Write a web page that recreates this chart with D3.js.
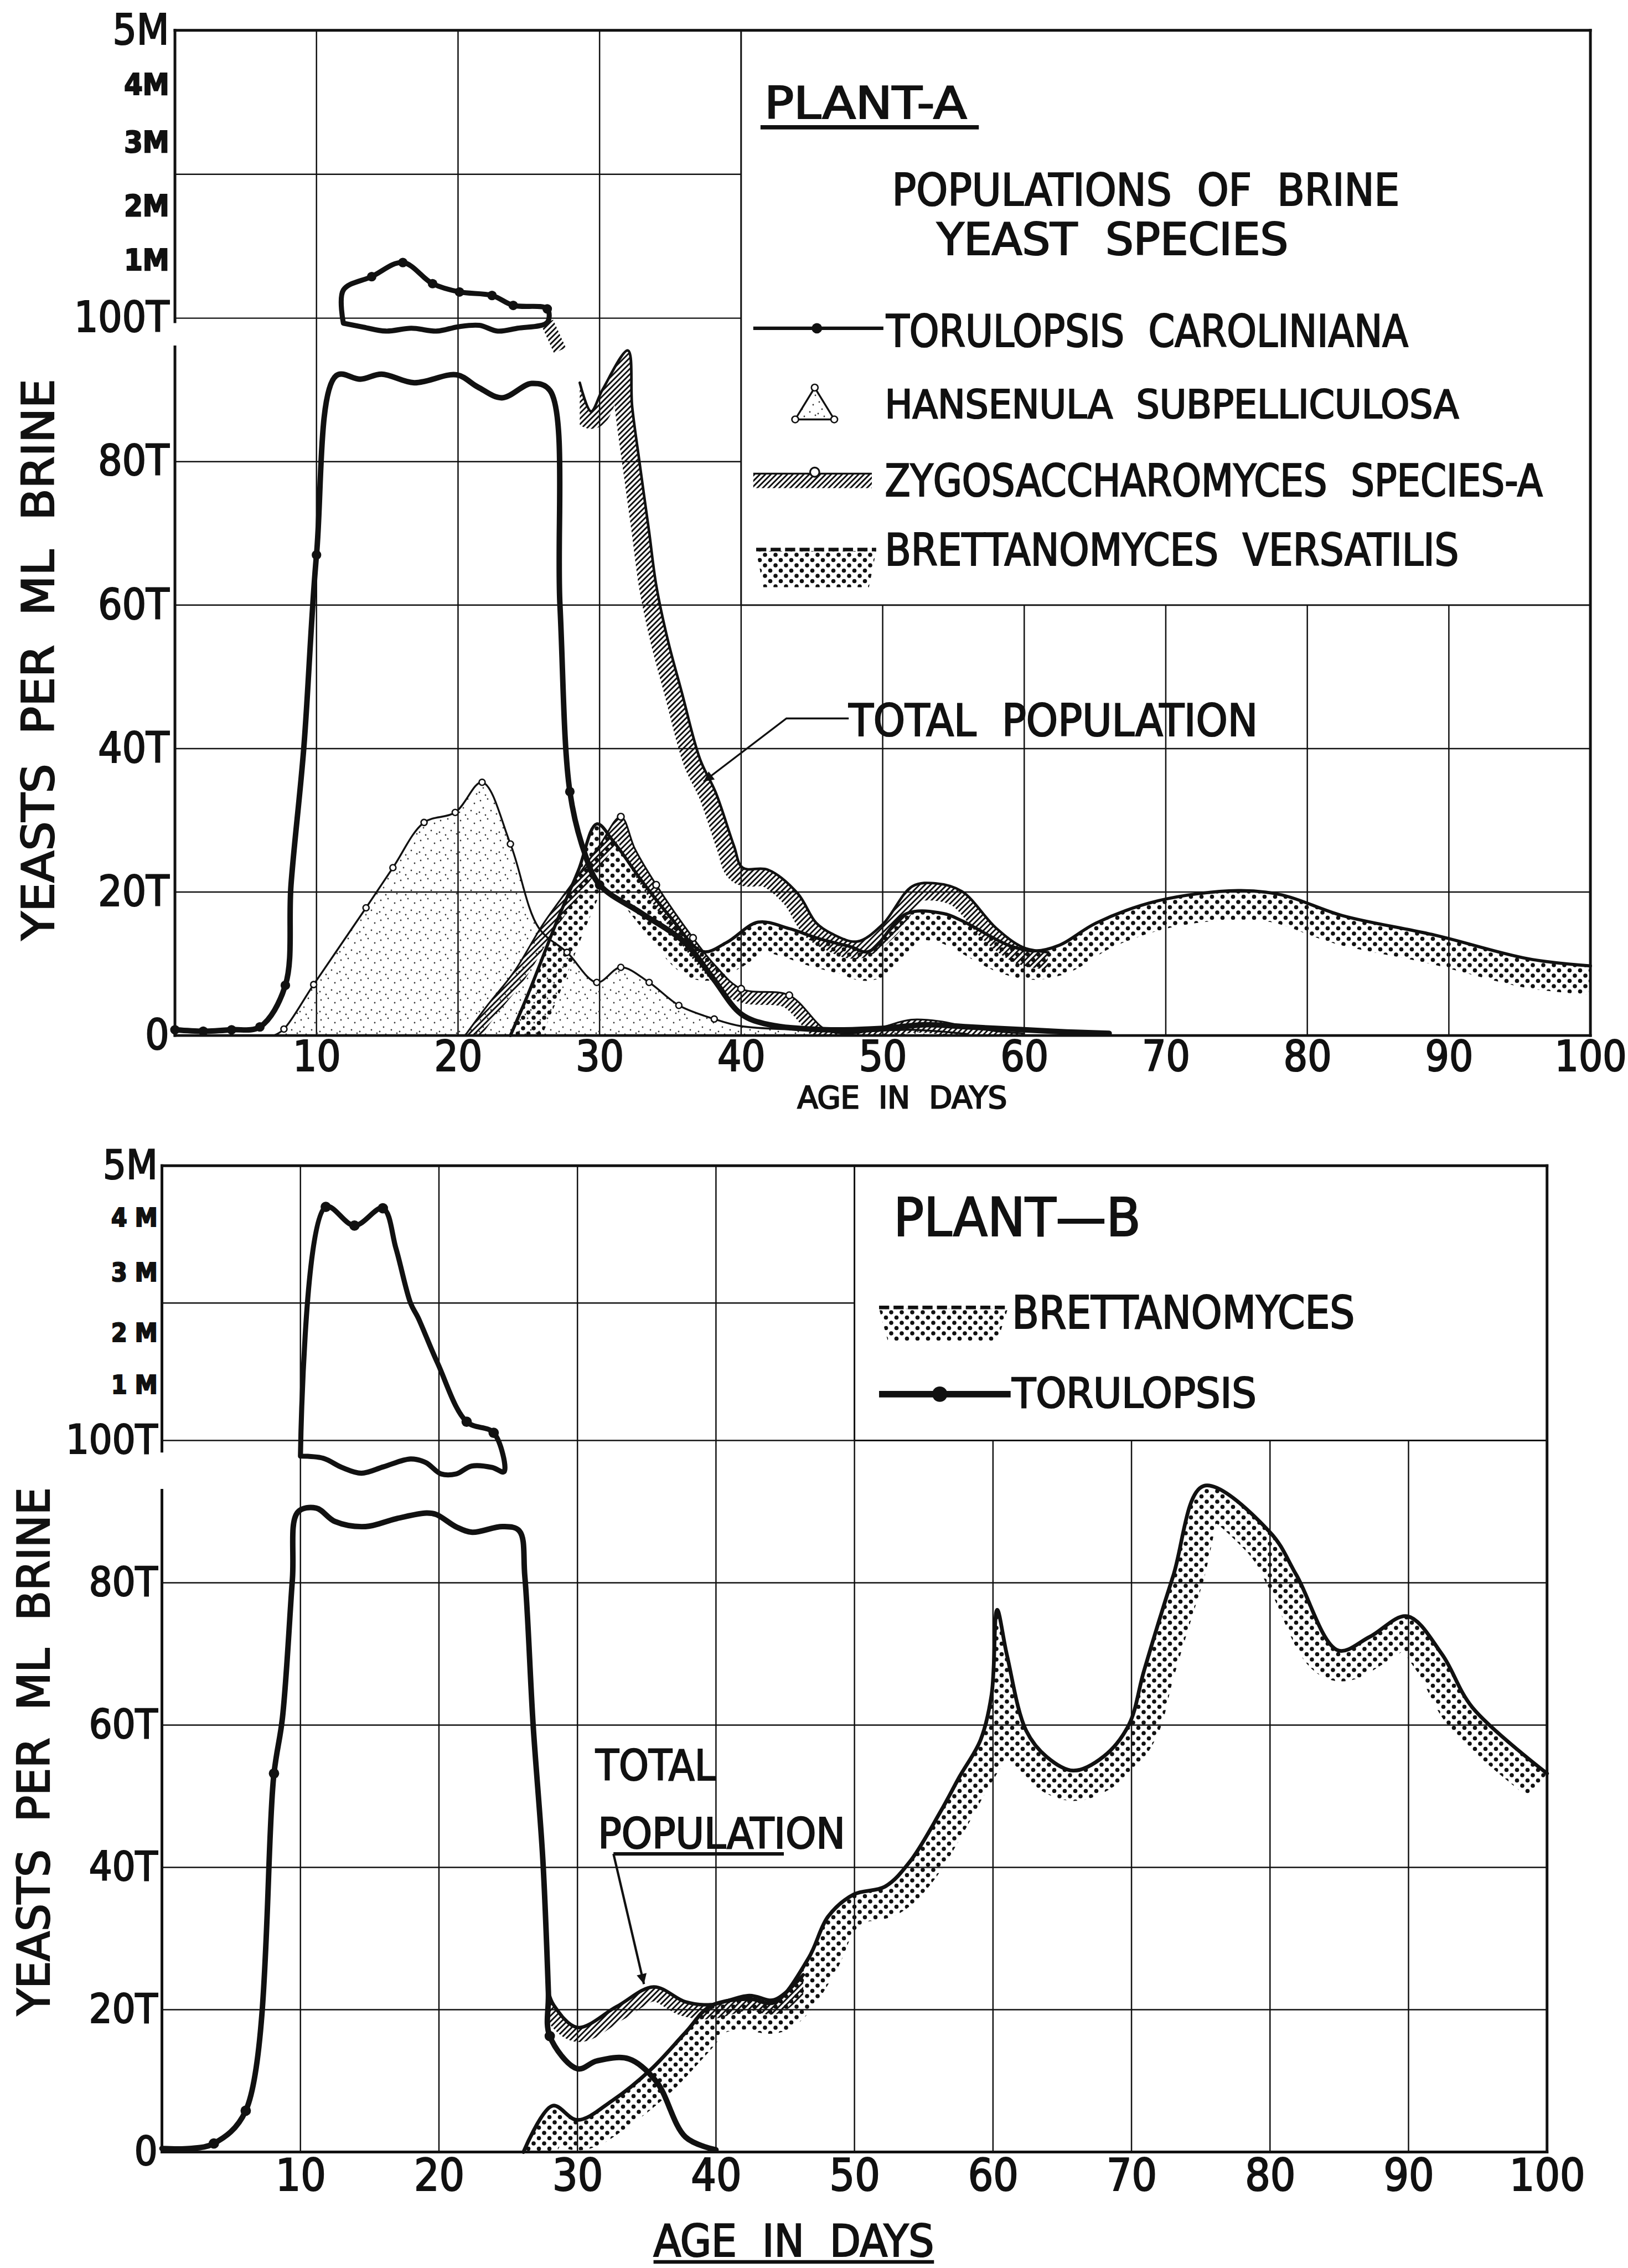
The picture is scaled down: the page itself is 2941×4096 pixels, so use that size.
<!DOCTYPE html>
<html>
<head>
<meta charset="utf-8">
<script src="https://cdn.jsdelivr.net/npm/d3@7/dist/d3.min.js"></script>
<style>
  html, body { margin:0; padding:0; background:#ffffff; }
  svg { display:block; }
  text { font-family: "Liberation Sans Narrow", "DejaVu Sans Condensed", "Liberation Sans", Arial, sans-serif; fill:#111; stroke:#111; stroke-width:2.2px; white-space: pre; }
</style>
</head>
<body>
<svg id="chart" width="2941" height="4096" xmlns="http://www.w3.org/2000/svg"></svg>
<script>
// ================= DATA  (x = age in days, y = yeasts per ml brine, in thousands) =================
const dayTicks   = [10,20,30,40,50,60,70,80,90,100];
const gridDays   = [10,20,30,40,50,60,70,80,90];
const gridValues = [20,40,60,80,100,2500];
const yTickValues  = [0,20,40,60,80,100,1000,2000,3000,4000,5000];
const yTickLabelsA = ["0","20T","40T","60T","80T","100T","1M","2M","3M","4M","5M"];
const yTickLabelsB = ["0","20T","40T","60T","80T","100T","1 M","2 M","3 M","4 M","5M"];
const legendA = ["TORULOPSIS  CAROLINIANA","HANSENULA  SUBPELLICULOSA","ZYGOSACCHAROMYCES  SPECIES-A","BRETTANOMYCES  VERSATILIS"];
const legendB = ["BRETTANOMYCES","TORULOPSIS"];

// ---- Plant A ----
const torulopsisA = [[0,0.8],[2,0.6],[4,0.8],[6,1.2],[7.8,7],[8.2,21],[9.1,40],[10,67],[11.4,92],[13.1,91.5],[14.6,92.2],[16.9,91],[19.9,92.1],[21.4,90.4],[23.1,88.9],[25.2,90.9],[26.5,89.9],[27.2,60],[27.9,34],[28.9,25.7],[30,21],[33,17],[36,13],[38,8],[40,3],[42,1.5],[46,0.8],[50,1],[53,1.5],[56,1.2],[60,0.8],[63,0.5],[66,0.3]];
const torulopsisAUpper = [[11.9,99.3],[11.9,540],[13.9,750],[16.1,970],[18.2,640],[20.1,510],[22.4,455],[23.9,300],[26.3,245],[26.3,99.4],[24.2,98.6],[22.8,98.2],[21.5,99],[20,98.8],[18.5,98.2],[16.7,98.6],[14.9,98.2],[13.2,98.8],[11.9,99.3]];
const torulopsisAMarks = [[0,0.8],[2,0.6],[4,0.8],[6,1.2],[7.8,7],[10,67],[27.9,34],[30,21],[13.9,750],[16.1,970],[18.2,640],[20.1,510],[22.4,455],[23.9,300],[26.3,245]];
const hansenulaA = [[7,0],[7.7,0.9],[9.8,7.1],[13.5,17.8],[15.4,23.4],[17.6,29.7],[19.8,31.1],[21.7,35.3],[23.7,26.7],[25.7,15],[27.7,11.6],[29.8,7.4],[31.5,9.5],[33.5,7.4],[35.6,4.2],[38.1,2.3],[40,1.3],[44,0.8],[48,0.5],[52,0.8],[56,0.2]];
const hansenulaAMarks = [[7.7,0.9],[9.8,7.1],[13.5,17.8],[15.4,23.4],[17.6,29.7],[19.8,31.1],[21.7,35.3],[23.7,26.7],[27.7,11.6],[29.8,7.4],[31.5,9.5],[33.5,7.4],[35.6,4.2],[38.1,2.3]];
const zygoA = [[20.5,0],[22,4],[24,9],[26,15.5],[28,21],[30,26.5],[31.5,30.5],[32.5,26],[34,21],[36.6,13.6],[38.1,9.9],[40,6.5],[43.4,5.6],[46,0.8],[48,0.3],[50,1.2],[52,2.2],[54,2],[56,1.2],[58,0.6],[60,0.3]];
const zygoAMarks = [[31.5,30.5],[34,21],[36.6,13.6],[40,6.5],[43.4,5.6]];
const brettA = [[23.7,0],[25,6],[27,16],[28.5,23],[29.8,29.5],[31,27],[33,21.5],[35,16.5],[37.3,11.7],[39,13],[41.2,15.8],[43.4,14.9],[45.5,13.5],[47.7,12.4],[49,11.7],[51.7,17],[54.3,17],[55.6,16],[59,12.5],[60.8,11.8],[62.5,12.6],[65.1,15.7],[69.5,18.8],[75.1,20.2],[78.2,19.6],[82.5,16.7],[89,14],[95.6,10.7],[100,9.7]];
const totalAStub = [[26.3,99.4],[27.2,95.5]];
const totalA = [[28.6,91],[29.4,87],[30.2,90],[32,95.5],[32.3,87.7],[32.8,80.2],[33.5,70.2],[34,62.8],[34.8,55.3],[35.8,47.9],[37.1,38.5],[38.2,33.9],[39.5,26.4],[40.1,23.4],[41.9,23.1],[44,19.8],[45.3,15.7],[46.4,14.2],[48.2,13.1],[50,15.5],[52.1,20.8],[53.8,21.2],[55.6,20.1],[58,15],[59.9,12.3],[61.7,11.6]];

// ---- Plant B ----
const torulopsisB = [[0,0.5],[2,0.5],[3.75,1.2],[6.05,5.8],[8.09,53.2],[8.7,61],[9.42,80.5],[9.8,89.9],[11.14,90.5],[12.5,88.6],[14.7,87.9],[16.9,89],[19.1,89.8],[19.8,89.6],[21.3,87.8],[22.4,87.1],[24.6,87.9],[25.8,87.3],[26.2,80.9],[26.8,60],[27.5,41.1],[27.9,22.5],[28,16.3],[30,11.7],[31.4,12.8],[33.7,13.1],[35.7,9.9],[37.8,2.1],[40,0.3]];
const torulopsisBUpper = [[10,97.8],[11.83,4210],[13.9,3860],[15.95,4185],[16.9,3440],[17.95,2500],[18.5,2255],[19.9,1430],[22,406],[23.95,226],[24.7,95.6],[23.85,96.2],[22.35,96.4],[21.25,95.3],[20.15,95.3],[19.05,96.9],[17.95,97.4],[16,96.3],[14.4,95.4],[13,96.2],[11.65,97.5],[10,97.8]];
const torulopsisBMarks = [[3.75,1.2],[6.05,5.8],[8.09,53.2],[11.83,4210],[13.9,3860],[15.95,4185],[22,406],[23.95,226],[28,16.3]];
const brettB = [[26.1,0],[28.2,6.5],[30,4.5],[32.5,7.2],[35.3,11.6],[37.8,16.8],[39.6,20.5],[42.4,21.5],[44.2,21],[46.7,27.3],[48.1,33.1],[49.95,36.2],[52.2,37.3],[54,40.8],[56.2,47.8],[57.6,52.8],[59.1,57.9],[59.9,64.3],[60.3,76.2],[61,69.9],[62.4,59.2],[63.9,55.5],[65.8,53.6],[68,55.6],[69.8,60],[70.9,67.6],[73,80.9],[75.2,93.6],[80,87.1],[81.9,81.1],[84.9,70.5],[87.2,72.4],[89.9,75.3],[92.4,70],[94.6,62.5],[100,53.2]];
const totalB = [[27.9,22.5],[28.3,20.6],[30,17.5],[32.8,20.4],[35.5,23.2],[37.8,21.1],[39.6,20.7],[42.4,22],[44.2,21.4],[46.3,24.9]];

// annotation anchors (data space)
const leaderA = [[47.6,44.2],[43.2,44.2],[37.35,35.4]];
const leaderB = [[32.6,41.9],[34.8,23.6]];
const underlineB = [[32.6,41.9],[44.9,41.9]];

// ================= LAYOUT =================
const S = 2941/1126;
const P = v => v*S;
const curve = d3.curveCatmullRom.alpha(0.5);
const yDomain = [0,100,1000,2000,3000,4000,5000];
const upperFrac = [0,0.2,0.39,0.61,0.81,1.0];
const INK = "#111";

const layoutA = {left:121,right:1100,top:21,y100:220,y0:716,gapLo:96,gapHi:99.5,ypad:4,xpad:4,bigFs:29,smallFs:20.5,xFs:29,labels:yTickLabelsA};
const layoutB = {left:112,right:1070,top:806,y100:996,y0:1488,gapLo:93,gapHi:98.5,ypad:3,xpad:5,bigFs:28,smallFs:17.5,xFs:30.5,labels:yTickLabelsB};

const svg = d3.select('#chart');
svg.append('rect').attr('width',2941).attr('height',4096).attr('fill','#fff');
const defs = svg.append('defs');

const ph = defs.append('pattern').attr('id','hatch').attr('patternUnits','userSpaceOnUse')
  .attr('width',7).attr('height',7).attr('patternTransform','rotate(45)');
ph.append('rect').attr('x',0).attr('y',0).attr('width',3).attr('height',7).attr('fill',INK);

const pd = defs.append('pattern').attr('id','dots').attr('patternUnits','userSpaceOnUse').attr('width',19).attr('height',19);
pd.append('circle').attr('cx',4.5).attr('cy',4.5).attr('r',3.8).attr('fill',INK);
pd.append('circle').attr('cx',14).attr('cy',14).attr('r',3.8).attr('fill',INK);

const ps = defs.append('pattern').attr('id','stipple').attr('patternUnits','userSpaceOnUse').attr('width',36).attr('height',36);
[[4,6],[17,3],[29,11],[9,19],[23,24],[33,30],[13,32],[2,27]].forEach(([cx,cy]) =>
  ps.append('circle').attr('cx',cx).attr('cy',cy).attr('r',1.4).attr('fill','#333'));

defs.append('marker').attr('id','arrow').attr('viewBox','0 0 10 10').attr('refX',10).attr('refY',5)
  .attr('markerWidth',P(9)).attr('markerHeight',P(7)).attr('markerUnits','userSpaceOnUse').attr('orient','auto')
  .append('path').attr('d','M0,0 L10,5 L0,10 z').attr('fill',INK);

function makeChart(L) {
  const x = d3.scaleLinear().domain([0,100]).range([P(L.left),P(L.right)]);
  const h = L.y100 - L.top;
  const y = d3.scaleLinear().domain(yDomain).range([L.y0, ...upperFrac.map(f => L.y100 - f*h)].map(P));
  const g = svg.append('g');
  const line = d3.line().x(d=>x(d[0])).y(d=>y(d[1])).curve(curve);
  const area = d3.area().x(d=>x(d[0])).y0(y(0)).y1(d=>y(d[1])).curve(curve);
  const gridG = g.append('g').attr('stroke',INK).attr('stroke-width',P(0.95));
  gridG.selectAll('line.v').data(gridDays).join('line').attr('class','v')
    .attr('x1',d=>x(d)).attr('x2',d=>x(d)).attr('y1',y(0)).attr('y2',y(5000));
  gridG.selectAll('line.h').data(gridValues).join('line').attr('class','h')
    .attr('x1',x(0)).attr('x2',x(100)).attr('y1',d=>y(d)).attr('y2',d=>y(d));
  const dataG = g.append('g');
  return {L,x,y,g,dataG,line,area};
}

// band of thickness w (display units) lying just beneath a series line
function band(C, data, id, pat, w) {
  defs.append('clipPath').attr('id',id).append('path').attr('d',C.area(data));
  C.dataG.append('path').attr('d',C.line(data)).attr('fill','none').attr('stroke',`url(#${pat})`)
    .attr('stroke-width',P(2*w)).attr('stroke-linejoin','round').attr('clip-path',`url(#${id})`);
}
function trace(C, data, w) {
  return C.dataG.append('path').attr('d',C.line(data)).attr('fill','none').attr('stroke',INK)
    .attr('stroke-width',P(w)).attr('stroke-linejoin','round').attr('stroke-linecap','round');
}
function marks(C, data, r, fill, sw) {
  C.dataG.append('g').selectAll('circle').data(data).join('circle')
    .attr('cx',d=>C.x(d[0])).attr('cy',d=>C.y(d[1])).attr('r',P(r))
    .attr('fill',fill).attr('stroke',INK).attr('stroke-width',P(sw||0));
}
function frame(C) {
  const {x,y,L} = C;
  const fg = C.g.append('g').attr('stroke',INK).attr('stroke-width',P(1.9)).attr('stroke-linecap','square');
  fg.append('line').attr('x1',x(0)).attr('x2',x(100)).attr('y1',y(5000)).attr('y2',y(5000));
  fg.append('line').attr('x1',x(0)).attr('x2',x(100)).attr('y1',y(0)).attr('y2',y(0));
  fg.append('line').attr('x1',x(100)).attr('x2',x(100)).attr('y1',y(5000)).attr('y2',y(0));
  fg.append('line').attr('x1',x(0)).attr('x2',x(0)).attr('y1',y(5000)).attr('y2',y(L.gapHi));
  fg.append('line').attr('x1',x(0)).attr('x2',x(0)).attr('y1',y(L.gapLo)).attr('y2',y(0));
}
function axes(C) {
  const {x,y,L} = C;
  const small = d => d > 100 && d < 5000;
  const ya = C.g.append('g').attr('transform',`translate(${x(0)},0)`)
    .call(d3.axisLeft(y).tickValues(yTickValues).tickFormat((d,i)=>L.labels[i]).tickSize(0).tickPadding(P(L.ypad)));
  ya.select('.domain').remove();
  ya.attr('font-family',null).attr('font-size',null);
  ya.selectAll('text').attr('fill',INK).attr('font-size',d=>small(d)?P(L.smallFs):P(L.bigFs))
    .attr('font-weight',d=>small(d)?'bold':'normal');
  const xa = C.g.append('g').attr('transform',`translate(0,${y(0)})`)
    .call(d3.axisBottom(x).tickValues(dayTicks).tickSize(0).tickPadding(P(L.xpad)));
  xa.select('.domain').remove();
  xa.attr('font-family',null).attr('font-size',null);
  xa.selectAll('text').attr('fill',INK).attr('font-size',P(L.xFs));
}
function label(g, str, left, base, cap, width, opts) {
  opts = opts || {};
  const t = g.append('text').attr('x',P(left)).attr('y',P(base)).attr('font-size',P(cap/0.72))
    .attr('text-anchor',opts.anchor||'start').text(str);
  if (width) t.attr('textLength',P(width)).attr('lengthAdjust','spacingAndGlyphs');
  if (opts.weight) t.attr('font-weight',opts.weight);
  return t;
}
function vtitle(g, str, cx, cy, cap, len) {
  g.append('text').attr('transform',`translate(${P(cx)},${P(cy)}) rotate(-90)`)
    .attr('text-anchor','middle').attr('dy','0.36em').attr('font-size',P(cap/0.72))
    .attr('textLength',P(len)).attr('lengthAdjust','spacingAndGlyphs').text(str);
}
function seg(g, x1, y1, x2, y2, w, dash) {
  const l = g.append('line').attr('x1',P(x1)).attr('y1',P(y1)).attr('x2',P(x2)).attr('y2',P(y2))
    .attr('stroke',INK).attr('stroke-width',P(w));
  if (dash) l.attr('stroke-dasharray',dash);
  return l;
}

// ================= PLANT A =================
const A = makeChart(layoutA);
A.dataG.append('path').attr('d',A.area(hansenulaA)).attr('fill','url(#stipple)');
band(A, brettA, 'clipBrettA', 'dots', 20);
band(A, zygoA, 'clipZygoA', 'hatch', 9);
band(A, totalA, 'clipTotalA', 'hatch', 12);
A.dataG.append('path').attr('d',A.line(totalAStub)).attr('fill','none').attr('stroke','url(#hatch)').attr('stroke-width',P(9));
trace(A, brettA, 2.2);
trace(A, zygoA, 1.2);
trace(A, totalA, 1.8);
trace(A, hansenulaA, 1.3);
trace(A, torulopsisA, 3.8);
trace(A, torulopsisAUpper, 3.5);
marks(A, torulopsisAMarks, 3.3, INK, 0);
marks(A, hansenulaAMarks, 2.1, '#fff', 1);
marks(A, zygoAMarks, 2.3, '#fff', 1);
// legend box A
A.g.append('rect').attr('x',A.x(40)).attr('y',A.y(5000)).attr('width',A.x(100)-A.x(40)).attr('height',A.y(60)-A.y(5000))
  .attr('fill','#fff').attr('stroke',INK).attr('stroke-width',P(1.1));
frame(A);
axes(A);
// annotation
A.g.append('path').attr('d',d3.line().x(d=>A.x(d[0])).y(d=>A.y(d[1]))(leaderA)).attr('fill','none')
  .attr('stroke',INK).attr('stroke-width',P(1.3)).attr('marker-end','url(#arrow)');
label(A.g, "TOTAL  POPULATION", 587, 509, 22, 283);
// legend A content
const LA = A.g.append('g');
label(LA, "PLANT-A", 528.7, 82, 22.3, 140);
seg(LA, 526, 88, 677, 88, 3);
label(LA, "POPULATIONS  OF  BRINE", 617, 142, 22, 351);
label(LA, "YEAST  SPECIES", 648, 176, 22, 243);
seg(LA, 521, 227, 611, 227, 2.4);
LA.append('circle').attr('cx',P(565)).attr('cy',P(227)).attr('r',P(3.6)).attr('fill',INK);
label(LA, legendA[0], 613, 239.7, 22, 361);
LA.append('path').attr('d',`M${P(563.5)},${P(268)} L${P(550)},${P(290)} L${P(577)},${P(290)} Z`)
  .attr('fill','url(#stipple)').attr('stroke',INK).attr('stroke-width',P(1.3));
[[563.5,268],[550,290],[577,290]].forEach(([cx,cy]) => LA.append('circle').attr('cx',P(cx)).attr('cy',P(cy)).attr('r',P(2.3)).attr('fill','#fff').attr('stroke',INK).attr('stroke-width',P(1)));
label(LA, legendA[1], 612, 289, 19.5, 397);
LA.append('rect').attr('x',P(521)).attr('y',P(327.5)).attr('width',P(82)).attr('height',P(10)).attr('fill','url(#hatch)');
seg(LA, 521, 327.5, 603, 327.5, 1.3);
LA.append('circle').attr('cx',P(563.5)).attr('cy',P(326.5)).attr('r',P(3.2)).attr('fill','#fff').attr('stroke',INK).attr('stroke-width',P(1.2));
label(LA, legendA[2], 612, 343, 22, 455);
LA.append('path').attr('d',`M${P(523)},${P(381)} L${P(606)},${P(381)} L${P(601)},${P(406)} L${P(528)},${P(406)} Z`).attr('fill','url(#dots)');
seg(LA, 523, 380, 606, 380, 2.5, `${P(7)},${P(3)}`);
label(LA, legendA[3], 612, 391, 22, 397);
// titles A
vtitle(A.g, "YEASTS  PER  ML  BRINE", 26, 456, 22, 388);
label(A.g, "AGE  IN  DAYS", 624, 766, 15, 145, {anchor:'middle'});

// ================= PLANT B =================
const B = makeChart(layoutB);
band(B, brettB, 'clipBrettB', 'dots', 21);
band(B, totalB, 'clipTotalB', 'hatch', 10);
trace(B, brettB, 2.6);
trace(B, totalB, 2.4);
trace(B, torulopsisB, 3.8);
trace(B, torulopsisBUpper, 3.5);
marks(B, torulopsisBMarks, 3.6, INK, 0);
B.g.append('rect').attr('x',B.x(50)).attr('y',B.y(5000)).attr('width',B.x(100)-B.x(50)).attr('height',B.y(100)-B.y(5000))
  .attr('fill','#fff').attr('stroke',INK).attr('stroke-width',P(1.1));
frame(B);
axes(B);
B.g.append('path').attr('d',d3.line().x(d=>B.x(d[0])).y(d=>B.y(d[1]))(leaderB)).attr('fill','none')
  .attr('stroke',INK).attr('stroke-width',P(1.6)).attr('marker-end','url(#arrow)');
B.g.append('path').attr('d',d3.line().x(d=>B.x(d[0])).y(d=>B.y(d[1]))(underlineB)).attr('fill','none')
  .attr('stroke',INK).attr('stroke-width',P(2.4));
label(B.g, "TOTAL", 412, 1231, 21, 83);
label(B.g, "POPULATION", 413.6, 1278, 21, 171);
const LB = B.g.append('g');
label(LB, "PLANT—B", 618, 854.5, 26.5, 171);
LB.append('path').attr('d',`M${P(608)},${P(905)} L${P(697)},${P(905)} L${P(690)},${P(927)} L${P(614)},${P(927)} Z`).attr('fill','url(#dots)');
seg(LB, 608, 904, 697, 904, 2.5, `${P(7)},${P(3)}`);
label(LB, legendB[0], 700, 918.6, 22.6, 237);
seg(LB, 608, 964, 699, 964, 4.5);
LB.append('circle').attr('cx',P(650)).attr('cy',P(964)).attr('r',P(5.3)).attr('fill',INK);
label(LB, legendB[1], 700, 973.4, 20.8, 169);
vtitle(B.g, "YEASTS  PER  ML  BRINE", 23, 1211, 22, 365);
label(B.g, "AGE  IN  DAYS", 549, 1560, 22, 194, {anchor:'middle'});
seg(B.g, 452, 1564, 646, 1564, 2.5);
</script>
</body>
</html>
